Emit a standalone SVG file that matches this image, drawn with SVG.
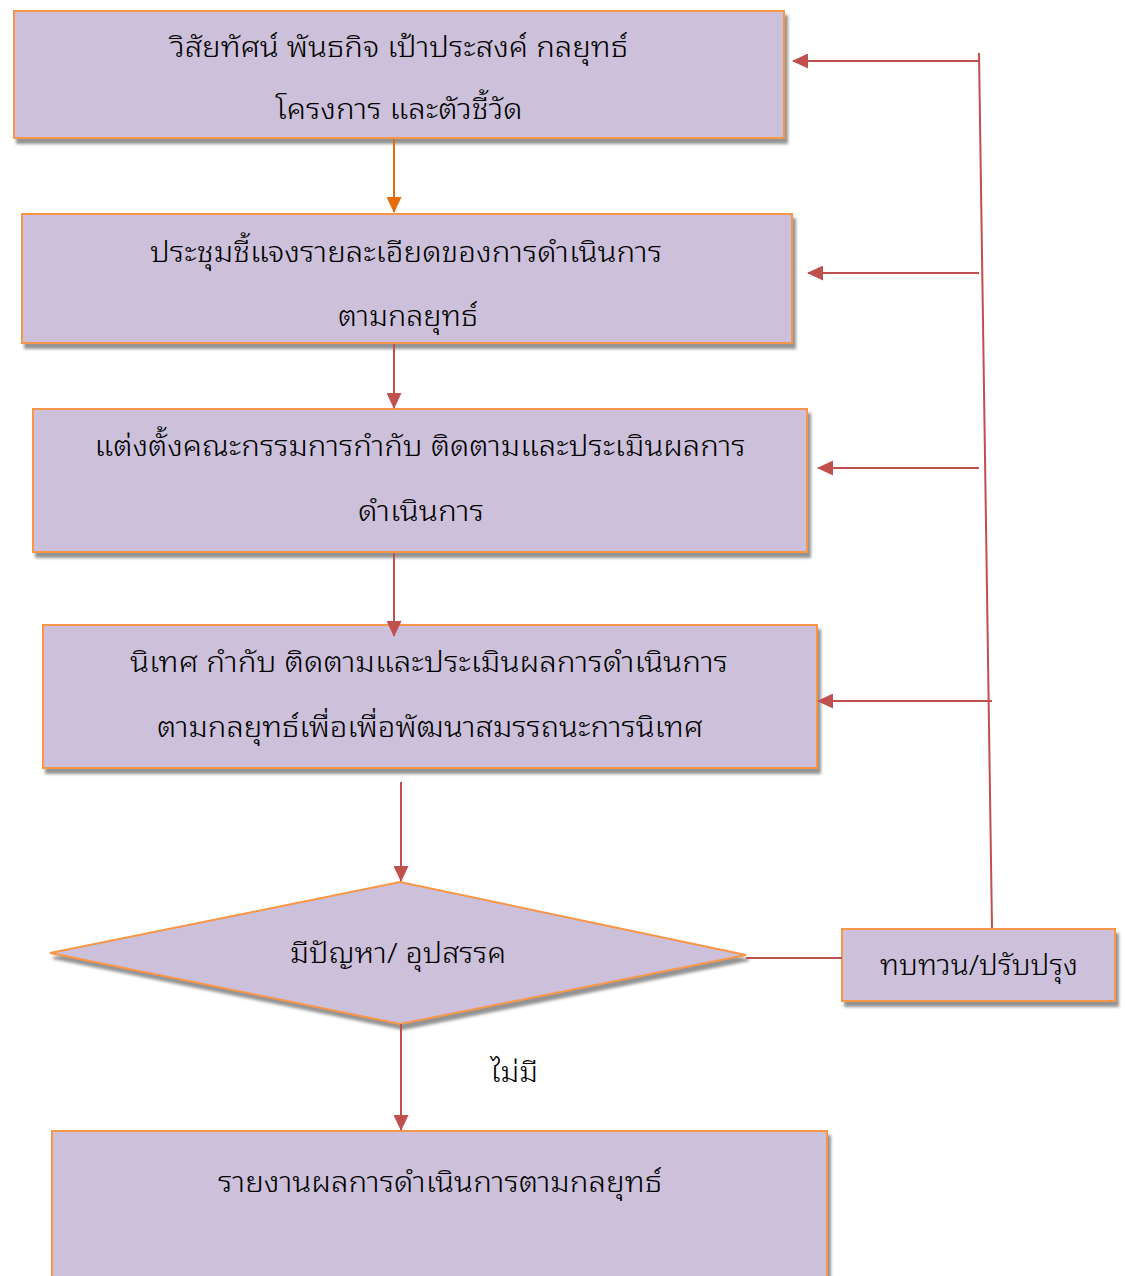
<svg xmlns="http://www.w3.org/2000/svg" width="1125" height="1276" viewBox="0 0 1125 1276">
  <style>
    .box { fill: #CCC0DA; stroke: #F79646; stroke-width: 2; filter: url(#shadow); }
    .lbl { font-family: "Noto Sans Thai Looped", "Noto Serif Thai", "Noto Sans Thai", "Tahoma", sans-serif; font-size: 28px; font-weight: 300; fill: #000; text-anchor: middle; }
    .red { stroke: #C0504D; stroke-width: 2; fill: none; }
    .org { stroke: #E46C0A; stroke-width: 2; fill: none; }
  </style>
  <defs>
    <filter id="shadow" x="-5%" y="-10%" width="115%" height="130%">
      <feDropShadow dx="3" dy="5" stdDeviation="1.8" flood-color="#808080" flood-opacity="0.85"/>
    </filter>
    <marker id="arrRed" markerWidth="16" markerHeight="15" refX="15" refY="7.5" orient="auto" markerUnits="userSpaceOnUse" viewBox="0 0 16 15">
      <path d="M0,0 L16,7.5 L0,15 z" fill="#C0504D"/>
    </marker>
    <marker id="arrOrg" markerWidth="16" markerHeight="15" refX="15" refY="7.5" orient="auto" markerUnits="userSpaceOnUse" viewBox="0 0 16 15">
      <path d="M0,0 L16,7.5 L0,15 z" fill="#E46C0A"/>
    </marker>
  </defs>

  <!-- process steps -->
  <g id="vision">
    <rect class="box" x="14" y="11" width="770" height="127"/>
    <text class="lbl" x="399" y="57" textLength="458" lengthAdjust="spacingAndGlyphs">วิสัยทัศน์ พันธกิจ เป้าประสงค์ กลยุทธ์</text>
    <text class="lbl" x="399" y="119" textLength="247" lengthAdjust="spacingAndGlyphs">โครงการ และตัวชี้วัด</text>
  </g>
  <g id="briefing">
    <rect class="box" x="22" y="214" width="770" height="129"/>
    <text class="lbl" x="406" y="262" textLength="512" lengthAdjust="spacingAndGlyphs">ประชุมชี้แจงรายละเอียดของการดำเนินการ</text>
    <text class="lbl" x="408" y="326" textLength="140" lengthAdjust="spacingAndGlyphs">ตามกลยุทธ์</text>
  </g>
  <g id="committee">
    <rect class="box" x="33" y="409" width="774" height="143"/>
    <text class="lbl" x="420" y="456" textLength="651" lengthAdjust="spacingAndGlyphs">แต่งตั้งคณะกรรมการกำกับ ติดตามและประเมินผลการ</text>
    <text class="lbl" x="421" y="521" textLength="126" lengthAdjust="spacingAndGlyphs">ดำเนินการ</text>
  </g>
  <g id="supervision">
    <rect class="box" x="43" y="625" width="774" height="143"/>
    <text class="lbl" x="429" y="672" textLength="598" lengthAdjust="spacingAndGlyphs">นิเทศ กำกับ ติดตามและประเมินผลการดำเนินการ</text>
    <text class="lbl" x="430" y="737" textLength="546" lengthAdjust="spacingAndGlyphs">ตามกลยุทธ์เพื่อเพื่อพัฒนาสมรรถนะการนิเทศ</text>
  </g>
  <g id="decision">
    <polygon class="box" points="50,953 400,882 746,955 400,1024"/>
    <text class="lbl" x="398" y="963" textLength="216" lengthAdjust="spacingAndGlyphs">มีปัญหา/ อุปสรรค</text>
  </g>
  <g id="review">
    <rect class="box" x="842" y="929" width="273" height="72"/>
    <text class="lbl" x="979" y="975" textLength="198" lengthAdjust="spacingAndGlyphs">ทบทวน/ปรับปรุง</text>
  </g>
  <g id="report">
    <rect class="box" x="52" y="1131" width="775" height="150"/>
    <text class="lbl" x="440" y="1192" textLength="444" lengthAdjust="spacingAndGlyphs">รายงานผลการดำเนินการตามกลยุทธ์</text>
  </g>
  <g id="label-no">
    <text class="lbl" x="514" y="1082" textLength="48" lengthAdjust="spacingAndGlyphs">ไม่มี</text>
  </g>

  <!-- connectors -->
  <g id="connectors">
    <line class="org" x1="394" y1="139" x2="394" y2="212" marker-end="url(#arrOrg)"/>
    <line class="red" x1="394" y1="344" x2="394" y2="408" marker-end="url(#arrRed)"/>
    <line class="red" x1="394" y1="553" x2="394" y2="636" marker-end="url(#arrRed)"/>
    <line class="red" x1="401" y1="782" x2="401" y2="881" marker-end="url(#arrRed)"/>
    <line class="red" x1="401" y1="1024" x2="401" y2="1130" marker-end="url(#arrRed)"/>
    <!-- feedback loop -->
    <line class="red" x1="746" y1="958" x2="842" y2="958" stroke-width="1.5"/>
    <line class="red" x1="992" y1="928" x2="979" y2="53" stroke-width="1.5"/>
    <line class="red" x1="979" y1="61" x2="793" y2="61" stroke-width="2.5" marker-end="url(#arrRed)"/>
    <line class="red" x1="979" y1="273" x2="808" y2="273" stroke-width="2.5" marker-end="url(#arrRed)"/>
    <line class="red" x1="979" y1="468" x2="818" y2="468" stroke-width="2.5" marker-end="url(#arrRed)"/>
    <line class="red" x1="992" y1="701" x2="818" y2="701" stroke-width="2.5" marker-end="url(#arrRed)"/>
  </g>
</svg>
